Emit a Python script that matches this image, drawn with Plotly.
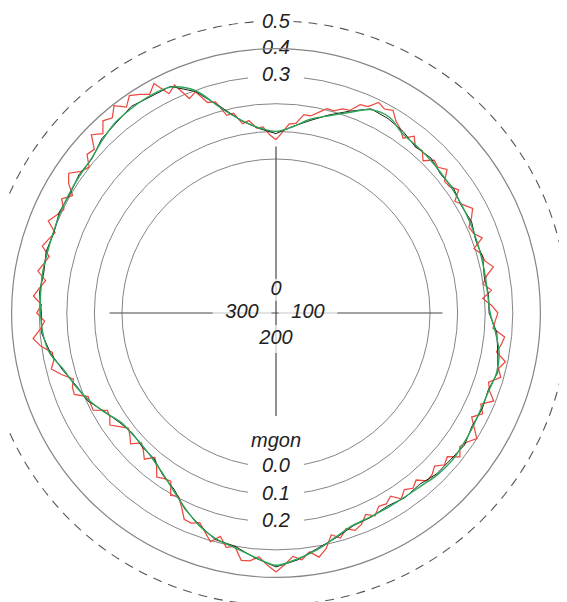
import plotly.graph_objects as go

# ---------------- data (angles in degrees, clockwise from top; 0/100/200/300 gon = 0/90/180/270 deg)
green_theta = list(range(0, 365, 5))
green_r = [0.100, 0.118, 0.155, 0.182, 0.215, 0.255, 0.262, 0.238, 0.233, 0.230,
           0.226, 0.223, 0.220, 0.218, 0.215, 0.213, 0.212, 0.212, 0.218, 0.240,
           0.263, 0.270, 0.263, 0.262, 0.266, 0.270, 0.274, 0.270, 0.260, 0.256,
           0.255, 0.256, 0.260, 0.282, 0.312, 0.336, 0.356, 0.330, 0.305, 0.288,
           0.260, 0.222, 0.185, 0.155, 0.135, 0.124, 0.123, 0.130, 0.160, 0.190,
           0.215, 0.238, 0.275, 0.290, 0.295, 0.298, 0.300, 0.299, 0.300, 0.304,
           0.307, 0.310, 0.314, 0.330, 0.345, 0.350, 0.352, 0.345, 0.300, 0.210,
           0.150, 0.115, 0.100]

black_theta = list(range(0, 365, 5))
black_r = [0.092, 0.120, 0.150, 0.185, 0.220, 0.258, 0.255, 0.245, 0.228, 0.236,
           0.222, 0.228, 0.218, 0.224, 0.212, 0.218, 0.208, 0.215, 0.214, 0.245,
           0.258, 0.274, 0.260, 0.266, 0.262, 0.276, 0.268, 0.266, 0.252, 0.258,
           0.250, 0.258, 0.262, 0.285, 0.308, 0.340, 0.362, 0.332, 0.300, 0.292,
           0.258, 0.225, 0.180, 0.158, 0.130, 0.128, 0.120, 0.134, 0.158, 0.195,
           0.212, 0.242, 0.272, 0.294, 0.292, 0.302, 0.296, 0.304, 0.298, 0.308,
           0.304, 0.314, 0.312, 0.335, 0.342, 0.356, 0.348, 0.348, 0.296, 0.215,
           0.148, 0.112, 0.092]

red_theta = list(range(0, 362, 2))
red_r = [0.070, 0.097, 0.129, 0.133, 0.168, 0.167, 0.185, 0.205, 0.204, 0.220,
         0.223, 0.256, 0.261, 0.291, 0.279, 0.290, 0.262, 0.247, 0.225, 0.255,
         0.228, 0.234, 0.209, 0.239, 0.231, 0.251, 0.217, 0.220, 0.240, 0.206,
         0.226, 0.249, 0.230, 0.207, 0.214, 0.237, 0.196, 0.217, 0.222, 0.247,
         0.217, 0.200, 0.227, 0.193, 0.224, 0.246, 0.237, 0.230, 0.275, 0.266,
         0.253, 0.292, 0.273, 0.289, 0.252, 0.265, 0.293, 0.254, 0.275, 0.245,
         0.271, 0.300, 0.278, 0.265, 0.288, 0.252, 0.264, 0.241, 0.256, 0.260,
         0.232, 0.248, 0.233, 0.254, 0.225, 0.241, 0.235, 0.260, 0.241, 0.268,
         0.280, 0.264, 0.290, 0.270, 0.315, 0.340, 0.316, 0.341, 0.326, 0.354,
         0.380, 0.356, 0.327, 0.345, 0.347, 0.301, 0.310, 0.276, 0.304, 0.276,
         0.250, 0.263, 0.260, 0.223, 0.194, 0.205, 0.161, 0.166, 0.177, 0.145,
         0.125, 0.155, 0.134, 0.120, 0.151, 0.133, 0.120, 0.143, 0.168, 0.152,
         0.148, 0.192, 0.190, 0.187, 0.230, 0.227, 0.214, 0.251, 0.281, 0.265,
         0.265, 0.303, 0.327, 0.299, 0.281, 0.309, 0.292, 0.323, 0.304, 0.285,
         0.318, 0.302, 0.289, 0.323, 0.308, 0.294, 0.332, 0.313, 0.297, 0.322,
         0.293, 0.328, 0.348, 0.315, 0.301, 0.336, 0.328, 0.372, 0.345, 0.379,
         0.365, 0.395, 0.364, 0.392, 0.376, 0.357, 0.384, 0.326, 0.346, 0.280,
         0.295, 0.244, 0.238, 0.180, 0.182, 0.138, 0.146, 0.116, 0.118, 0.088,
         0.070]

ring_values = [0.0, 0.1, 0.2, 0.3, 0.4, 0.5]
ring_labels = ["0.0", "0.1", "0.2", "0.3", "0.4", "0.5"]
ring_label_theta = [180, 180, 180, 0, 0, 0]

angle_labels = ["0", "100", "200", "300"]
angle_label_theta = [0, 90, 180, 270]
angle_label_r = [-0.474, -0.442, -0.464, -0.435]

unit_label = "mgon"
unit_label_r = -0.091
unit_label_theta = 180

R_MIN = -0.558
R_MAX = 0.4
CROSS_OUT = 0.045
CROSS_DOWN = -0.185

# ---------------- geometry of the polar frame (figure pixels)
W, H = 567, 602
CX, CY = 268.0, 305.0          # centre of the dial (from left / from top)
RPX = 264.4                    # pixel radius of R_MAX
PX_PER_UNIT = RPX / (R_MAX - R_MIN)
dom_x = [(CX - RPX) / W, (CX + RPX) / W]
dom_y = [(H - CY - RPX) / H, (H - CY + RPX) / H]

FONT = dict(family="Liberation Sans, Arial, sans-serif", size=20, color="#222222", style="italic")
GRID = "#858585"

fig = go.Figure()

# cross-hair (0-200 gon and 100-300 gon axes)
fig.add_trace(go.Scatterpolar(r=[CROSS_OUT, R_MIN, CROSS_OUT], theta=[270, 0, 90], mode="lines",
                              line=dict(color="#474747", width=1.2), hoverinfo="skip"))
fig.add_trace(go.Scatterpolar(r=[CROSS_OUT, R_MIN, CROSS_DOWN], theta=[0, 0, 180], mode="lines",
                              line=dict(color="#474747", width=1.2), hoverinfo="skip"))

# ring labels (inside the drawable range) with white bars breaking the circles
vis = [i for i, v in enumerate(ring_values) if v <= R_MAX]
fig.add_trace(go.Scatterpolar(r=[ring_values[i] for i in vis], theta=[ring_label_theta[i] for i in vis],
                              mode="markers+text", text=[ring_labels[i] for i in vis],
                              textposition="middle center", textfont=FONT,
                              marker=dict(symbol="line-ew", size=40, color="white",
                                          line=dict(color="white", width=14)),
                              cliponaxis=False, hoverinfo="skip"))

# angle labels near the centre
fig.add_trace(go.Scatterpolar(r=angle_label_r, theta=angle_label_theta, mode="markers+text",
                              text=angle_labels, textposition="middle center", textfont=FONT,
                              marker=dict(symbol="line-ew", size=[16, 42, 42, 42], color="white",
                                          line=dict(color="white", width=[22, 16, 28, 16])),
                              hoverinfo="skip"))

fig.add_trace(go.Scatterpolar(r=[unit_label_r], theta=[unit_label_theta], mode="text",
                              text=[unit_label], textposition="middle center", textfont=FONT,
                              hoverinfo="skip"))

# data
fig.add_trace(go.Scatterpolar(r=red_r, theta=red_theta, mode="lines",
                              line=dict(color="#ec4a3f", width=1.25), name="raw"))
fig.add_trace(go.Scatterpolar(r=black_r, theta=black_theta, mode="lines",
                              line=dict(color="#1e1e1e", width=1.0), name="mean"))
fig.add_trace(go.Scatterpolar(r=green_r, theta=green_theta, mode="lines",
                              line=dict(color="#2aa556", width=1.4, shape="spline", smoothing=1.0),
                              name="smooth"))

# outer dashed 0.5 ring lies outside the square the polar frame can occupy -> paper shape
r_out = (ring_values[-1] - R_MIN) * PX_PER_UNIT
shapes = [dict(type="circle", xref="paper", yref="paper",
               x0=(CX - r_out) / W, x1=(CX + r_out) / W,
               y0=(H - CY - r_out) / H, y1=(H - CY + r_out) / H,
               line=dict(color="#555555", width=1.1, dash="9px,7px"), layer="above")]
annotations = [dict(xref="paper", yref="paper", x=CX / W, y=(H - CY + r_out) / H,
                    text=ring_labels[-1], showarrow=False, font=FONT, bgcolor="white",
                    xanchor="center", yanchor="middle", borderpad=2)]

fig.update_layout(
    width=W, height=H,
    margin=dict(l=0, r=0, t=0, b=0),
    paper_bgcolor="white",
    showlegend=False,
    shapes=shapes,
    annotations=annotations,
    polar=dict(
        domain=dict(x=dom_x, y=dom_y),
        bgcolor="white",
        radialaxis=dict(range=[R_MIN, R_MAX], tickvals=ring_values[:4], showticklabels=False,
                        ticks="", showline=False, gridcolor=GRID, gridwidth=1.2),
        angularaxis=dict(rotation=90, direction="clockwise", showticklabels=False, ticks="",
                         showgrid=False, showline=True, linecolor=GRID, linewidth=1.2),
    ),
)

fig.write_html("out.html")
